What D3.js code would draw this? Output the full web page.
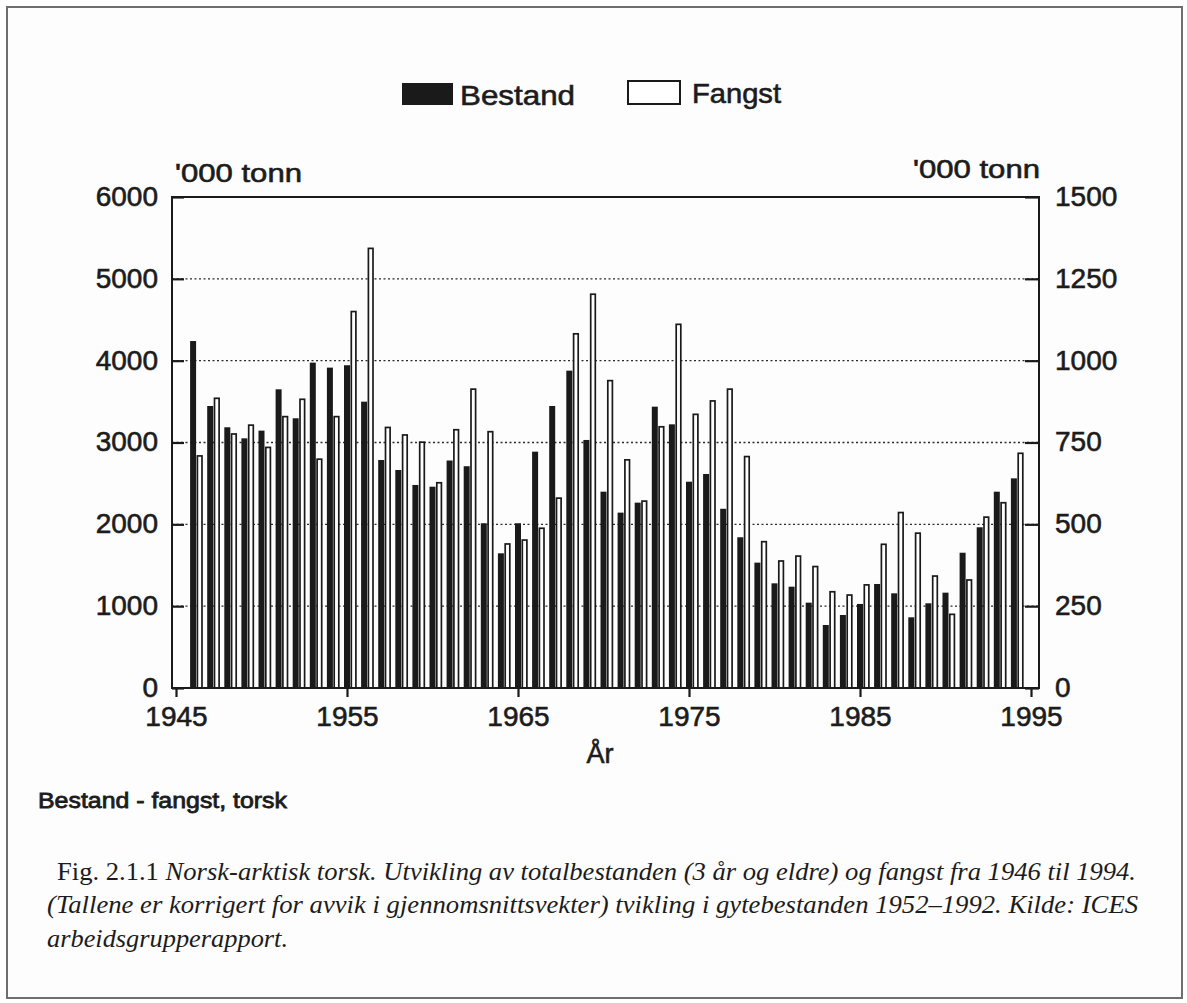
<!DOCTYPE html>
<html>
<head>
<meta charset="utf-8">
<script src="https://cdn.jsdelivr.net/npm/d3@7"></script>
<style>
  html, body { margin: 0; padding: 0; background: #ffffff; }
  svg { display: block; }
  .sans { font-family: "Liberation Sans", Arial, Helvetica, sans-serif; fill: #1c1c1c; stroke: #1c1c1c; stroke-width: 0.6px; }
  .serif { font-family: "Liberation Serif", "Times New Roman", serif; fill: #1c1c1c; }
</style>
</head>
<body>
<svg id="chart" width="1187" height="1003"></svg>
<script>
// Years 1946–1994
const years = d3.range(1946, 1995);

// Total stock, 3 years and older ('000 tonnes, left axis)
const bestand = [
  4240, 3446, 3186, 3051, 3145, 3650, 3296, 3976, 3915, 3944,
  3499, 2786, 2664, 2481, 2460, 2780, 2710, 2013, 1646, 2013,
  2888, 3446, 3878, 3031, 2399, 2143, 2265, 3438, 3222, 2521,
  2615, 2190, 1842, 1532, 1279, 1238, 1043,  770,  892, 1027,
  1271, 1157,  864, 1035, 1165, 1653, 1964, 2399, 2562
];

// Catch ('000 tonnes, right axis)
const fangst = [
   709,  885,  776,  803,  735,  829,  882,  699,  829, 1150,
  1343,  796,  773,  751,  627,  789,  913,  783,  440,  452,
   488,  580, 1082, 1203,  939,  697,  571,  798, 1111,  836,
   877,  913,  707,  447,  388,  403,  371,  294,  284,  315,
   439,  536,  473,  342,  225,  330,  522,  566,  717
];

const leftTicks = [0, 1000, 2000, 3000, 4000, 5000, 6000];
const rightTicks = [0, 250, 500, 750, 1000, 1250, 1500];
const yearTicks = [1945, 1955, 1965, 1975, 1985, 1995];
const gridValues = [1000, 2000, 3000, 4000, 5000];

const seriesNames = ["Bestand", "Fangst"];
const unitLabel = "'000 tonn";
const xTitle = "År";
const chartTitle = "Bestand - fangst, torsk";
const captionLines = [
  { upright: "Fig. 2.1.1 ", italic: "Norsk-arktisk torsk. Utvikling av totalbestanden (3 år og eldre) og fangst fra 1946 til 1994." },
  { upright: "", italic: "(Tallene er korrigert for avvik i gjennomsnittsvekter) tvikling i gytebestanden 1952–1992. Kilde: ICES" },
  { upright: "", italic: "arbeidsgrupperapport." }
];

const svg = d3.select("#chart");

// Outer frame of the figure
svg.append("rect")
  .attr("x", 7).attr("y", 7).attr("width", 1175).attr("height", 991)
  .attr("fill", "#fdfdfd").attr("stroke", "#6e6e6e").attr("stroke-width", 2);

// Plot area
const plot = { left: 172, right: 1039, top: 197, bottom: 688 };

const x = d3.scaleLinear().domain([1945, 1995]).range([176, 1031]);
const yL = d3.scaleLinear().domain([0, 6000]).range([plot.bottom, plot.top]);
const yR = d3.scaleLinear().domain([0, 1500]).range([plot.bottom, plot.top]);

// Dotted gridlines
svg.append("g").selectAll("line")
  .data(gridValues).join("line")
  .attr("x1", plot.left).attr("x2", plot.right)
  .attr("y1", d => yL(d)).attr("y2", d => yL(d))
  .attr("stroke", "#2a2a2a").attr("stroke-width", 1.4)
  .attr("stroke-dasharray", "2,2.5");

// Stock bars (solid)
svg.append("g").selectAll("rect")
  .data(years).join("rect")
  .attr("x", (d) => x(d) - 3)
  .attr("width", 6)
  .attr("y", (d, i) => yL(bestand[i]))
  .attr("height", (d, i) => plot.bottom - yL(bestand[i]))
  .attr("fill", "#1a1a1a");

// Catch bars (outlined)
svg.append("g").selectAll("rect")
  .data(years).join("rect")
  .attr("x", (d) => x(d) + 4.3)
  .attr("width", 4.6)
  .attr("y", (d, i) => yR(fangst[i]))
  .attr("height", (d, i) => plot.bottom - yR(fangst[i]))
  .attr("fill", "#ffffff")
  .attr("stroke", "#1a1a1a").attr("stroke-width", 1.7);

// Plot box
svg.append("rect")
  .attr("x", plot.left).attr("y", plot.top)
  .attr("width", plot.right - plot.left).attr("height", plot.bottom - plot.top)
  .attr("fill", "none").attr("stroke", "#1a1a1a").attr("stroke-width", 2);

// Left axis
const gL = svg.append("g")
  .attr("transform", `translate(${plot.left},0)`)
  .call(d3.axisLeft(yL).tickValues(leftTicks).tickSize(-12).tickPadding(14).tickFormat(d3.format("d")));
// Right axis
const gR = svg.append("g")
  .attr("transform", `translate(${plot.right},0)`)
  .call(d3.axisRight(yR).tickValues(rightTicks).tickSize(-14).tickPadding(16).tickFormat(d3.format("d")));
// Bottom axis
const gB = svg.append("g")
  .attr("transform", `translate(0,${plot.bottom})`)
  .call(d3.axisBottom(x).tickValues(yearTicks).tickSize(9).tickPadding(9).tickFormat(d3.format("d")));

[gL, gR, gB].forEach(g => {
  g.select(".domain").remove();
  g.selectAll(".tick line").attr("stroke", "#1a1a1a").attr("stroke-width", 2.2);
  g.selectAll(".tick text")
    .attr("class", "sans")
    .attr("fill", "#1c1c1c")
    .style("font-size", "28px");
});
gL.selectAll(".tick text").attr("dy", "0.3em");
gR.selectAll(".tick text").attr("dy", "0.3em");

// Unit labels above the axes
svg.append("text").attr("class", "sans")
  .attr("x", 175).attr("y", 182)
  .attr("textLength", 127).attr("lengthAdjust", "spacingAndGlyphs")
  .style("font-size", "26px").text(unitLabel);
svg.append("text").attr("class", "sans")
  .attr("x", 913).attr("y", 178)
  .attr("textLength", 127).attr("lengthAdjust", "spacingAndGlyphs")
  .style("font-size", "26px").text(unitLabel);

// Legend
const legend = svg.append("g");
legend.append("rect")
  .attr("x", 402).attr("y", 83).attr("width", 51).attr("height", 22)
  .attr("fill", "#1a1a1a");
legend.append("text").attr("class", "sans")
  .attr("x", 460).attr("y", 105)
  .attr("textLength", 115).attr("lengthAdjust", "spacingAndGlyphs")
  .style("font-size", "28px").text(seriesNames[0]);
legend.append("rect")
  .attr("x", 628).attr("y", 81).attr("width", 52).attr("height", 23)
  .attr("fill", "#ffffff").attr("stroke", "#1a1a1a").attr("stroke-width", 2);
legend.append("text").attr("class", "sans")
  .attr("x", 692).attr("y", 103)
  .attr("textLength", 89).attr("lengthAdjust", "spacingAndGlyphs")
  .style("font-size", "28px").text(seriesNames[1]);

// X axis title
svg.append("text").attr("class", "sans")
  .attr("x", 600).attr("y", 763).attr("text-anchor", "middle")
  .style("font-size", "27px").text(xTitle);

// Figure title
svg.append("text").attr("class", "sans")
  .attr("x", 38).attr("y", 808)
  .attr("textLength", 249).attr("lengthAdjust", "spacingAndGlyphs")
  .style("font-size", "22px").style("stroke-width", "0.8px").text(chartTitle);

// Caption
const capPos = [
  { x: 57, y: 880, w: 1079 },
  { x: 47, y: 913, w: 1091 },
  { x: 47, y: 947, w: 241 }
];
captionLines.forEach((line, i) => {
  const t = svg.append("text").attr("class", "serif")
    .attr("x", capPos[i].x).attr("y", capPos[i].y)
    .attr("textLength", capPos[i].w).attr("lengthAdjust", "spacingAndGlyphs")
    .style("font-size", "25px");
  if (line.upright) t.append("tspan").text(line.upright);
  t.append("tspan").style("font-style", "italic").text(line.italic);
});
</script>
</body>
</html>
